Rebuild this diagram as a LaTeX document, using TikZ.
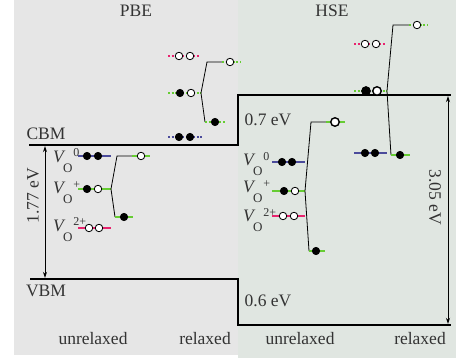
\documentclass[tikz,border=0pt]{standalone}
\usepackage{fontspec}
\setmainfont{Liberation Serif}
\usetikzlibrary{arrows.meta}
\definecolor{bgL}{HTML}{E6E6E6}
\definecolor{bgR}{HTML}{E0E6E1}
\definecolor{lvB}{HTML}{4B4B9B}
\definecolor{lvG}{HTML}{66CC33}
\definecolor{lvP}{HTML}{E8236E}
\definecolor{txt}{HTML}{333333}
\newcommand{\vlab}[1]{\textit{V}\kern-0.14em\raisebox{-0.55em}{\fontsize{13}{13}\selectfont O}\kern0.05em\raisebox{0.32em}{\fontsize{12}{12}\selectfont #1}}
\tikzset{
  lev/.style={line width=2pt},
  dotlev/.style={line width=2pt, dash pattern=on 2pt off 1.6pt},
  full/.style={circle, fill=black, draw=black, line width=0.6pt, inner sep=0pt, minimum size=7.5pt},
  empty/.style={circle, fill=white, draw=black, line width=0.8pt, inner sep=0pt, minimum size=7.5pt},
  bigfull/.style={full, minimum size=9pt},
  bigempty/.style={empty, line width=1.4pt, minimum size=8.5pt},
  conn/.style={line width=0.8pt},
  band/.style={line width=2.4pt},
  lbl/.style={text=txt, font=\fontsize{17.5}{18}\selectfont, inner sep=0pt},
  vl/.style={text=txt, font=\fontsize{17.5}{18}\selectfont, inner sep=0pt, anchor=base west},
  dim/.style={line width=0.7pt, {Stealth[length=6pt,width=4pt]}-{Stealth[length=6pt,width=4pt]}}
}
\begin{document}
\begin{tikzpicture}[x=1pt,y=-1pt]
\useasboundingbox (0,0) rectangle (456,358);
\fill[bgL] (14,0) rectangle (238,355);
\fill[bgR] (238,0) rectangle (456,358);

% band edges
\coordinate (cbmL) at (29,145);
\coordinate (cbmS1) at (238,145);
\coordinate (cbmS2) at (238,95);
\coordinate (cbmR) at (451,95);
\coordinate (vbmL) at (30,279);
\coordinate (vbmS1) at (238,279);
\coordinate (vbmS2) at (238,325);
\coordinate (vbmR) at (451,325);
\draw[band] (cbmL) -- (cbmS1) -- (cbmS2) -- (cbmR);
\draw[band] (vbmL) -- (vbmS1) -- (vbmS2) -- (vbmR);

% gap arrows
\coordinate (g1t) at (45,146.2);
\coordinate (g1b) at (45,277.8);
\draw[dim] (g1t) -- (g1b);
\coordinate (g2t) at (448,96.2);
\coordinate (g2b) at (448,323.8);
\draw[dim] (g2t) -- (g2b);

% texts
\node[lbl] (pbe) at (136,11) {PBE};
\node[lbl] (hse) at (332,11) {HSE};
\node[lbl] (cbm) at (46,134) {CBM};
\node[lbl] (vbm) at (46,291) {VBM};
\node[lbl, rotate=90] (g1) at (33,196) {1.77 eV};
\node[lbl, rotate=-90] (g2) at (435,197) {3.05 eV};
\node[lbl] (o7) at (268,120) {0.7 eV};
\node[lbl] (o6) at (268,301) {0.6 eV};
\node[lbl] (u1) at (93,339) {unrelaxed};
\node[lbl] (r1) at (205,339) {relaxed};
\node[lbl] (u2) at (300,339) {unrelaxed};
\node[lbl] (r2) at (420,339) {relaxed};

% V_O labels
\node[vl] (lv0) at (53,162.5) {\vlab{0}};
\node[vl] (lv1) at (53,194) {\vlab{+}};
\node[vl] (lv2) at (53,231.5) {\vlab{2+}};
\node[vl] (rv0) at (243,166) {\vlab{0}};
\node[vl] (rv1) at (243,193) {\vlab{+}};
\node[vl] (rv2) at (243,222) {\vlab{2+}};

% ---------- PBE unrelaxed ----------
\draw[lev, lvB] (78,156) -- (111,156);
\node[full] (a1) at (87,156) {};
\node[full] (a2) at (98,156) {};
\draw[lev, lvG] (78,189) coordinate (pgl) -- (111,189) coordinate (pgr);
\node[full] (b1) at (87,189) {};
\node[empty] (b2) at (98,189) {};
\draw[lev, lvP] (78,228) -- (111,228);
\node[empty] (c1) at (89,228) {};
\node[empty] (c2) at (99,228) {};
\coordinate (pu1) at (117,156);
\coordinate (pu2) at (132,156);
\coordinate (pd1) at (115,217);
\draw[conn] (pu2) -- (pu1) -- (pgr) -- (pd1);
\draw[lev, lvG] (pu2) -- (150,156);
\node[empty] (d1) at (141,156) {};
\draw[lev, lvG] (pd1) -- (133,217);
\node[full] (d2) at (124,217) {};

% ---------- PBE relaxed ----------
\draw[dotlev, lvP] (168,56) -- (200,56);
\node[empty] (e1) at (179,56) {};
\node[empty] (e2) at (190,56) {};
\draw[dotlev, lvG] (168,93) -- (201,93) coordinate (qgr);
\node[full] (f1) at (180,93) {};
\node[empty] (f2) at (191,93) {};
\draw[dotlev, lvB] (168,137) -- (202,137);
\node[full] (h1) at (179,137) {};
\node[full] (h2) at (190,137) {};
\coordinate (qu1) at (207,62);
\coordinate (qu2) at (222,62);
\coordinate (qd1) at (205,122);
\draw[conn] (qu2) -- (qu1) -- (qgr) -- (qd1);
\draw[dotlev, lvG] (qu2) -- (241,62);
\node[empty] (i1) at (230,62) {};
\draw[dotlev, lvG] (qd1) -- (225,122);
\node[full] (i2) at (215,122) {};

% ---------- HSE unrelaxed ----------
\draw[lev, lvB] (272,162) -- (305,162);
\node[full] (j1) at (282,162) {};
\node[full] (j2) at (292,162) {};
\draw[lev, lvG] (272,191) -- (305,191) coordinate (hgr);
\node[full] (k1) at (284,191) {};
\node[empty] (k2) at (295,191) {};
\draw[lev, lvP] (272,216) -- (305,216);
\node[empty] (l1) at (283,216) {};
\node[empty] (l2) at (294,216) {};
\coordinate (hu1) at (311,122);
\coordinate (hu2) at (326,122);
\coordinate (hd1) at (309,251);
\draw[conn] (hu2) -- (hu1) -- (hgr) -- (hd1);
\draw[lev, lvG] (hu2) -- (345,122);
\node[bigempty] (m1) at (335,122) {};
\draw[lev, lvG] (hd1) -- (325,251);
\node[full] (m2) at (316,251) {};

% ---------- HSE relaxed ----------
\draw[dotlev, lvP] (354,44) -- (386,44);
\node[empty] (n1) at (365,44) {};
\node[empty] (n2) at (376,44) {};
\draw[dotlev, lvG] (354,91) -- (387,91) coordinate (sgr);
\node[bigfull] (o1) at (366,91) {};
\node[bigempty] (o2) at (377,91) {};
\draw[lev, lvB] (354,153) -- (387,153);
\node[full] (p1) at (365,153) {};
\node[full] (p2) at (375,153) {};
\coordinate (su1) at (393,25);
\coordinate (su2) at (409,25);
\coordinate (sd1) at (391,155);
\draw[conn] (su2) -- (su1) -- (sgr) -- (sd1);
\draw[dotlev, lvG] (su2) -- (428,25);
\node[empty] (t1) at (417,25) {};
\draw[lev, lvG] (sd1) -- (410,155);
\node[full] (t2) at (400,155) {};
\end{tikzpicture}
\end{document}
